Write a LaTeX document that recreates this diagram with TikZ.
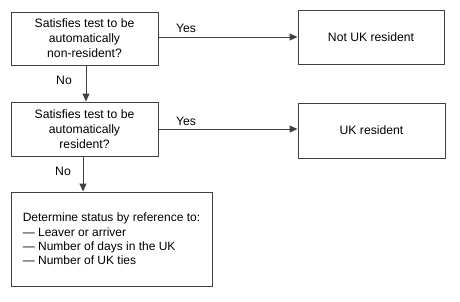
\documentclass[tikz,border=0pt]{standalone}
\usepackage{fontspec}
\setmainfont{Liberation Sans}
\usetikzlibrary{arrows.meta}

\tikzset{
  box/.style={draw=black!75,line width=1pt,minimum width=147pt,minimum height=54pt,align=center,inner sep=2pt},
  flow/.style={draw=black!75,line width=1pt,-{Triangle[length=8pt,width=7pt]}},
  lbl/.style={font=\fontsize{12.2}{14}\selectfont}
}

\begin{document}
\begin{tikzpicture}[x=1pt,y=-1pt,font=\fontsize{12.2}{15}\selectfont]
\useasboundingbox (0,0) rectangle (460,301);
\node[box,minimum height=53pt] (auton) at (84.5,38.5) {Satisfies test to be\\automatically\\non-resident?};
\node[box] (autor) at (84.5,129) {Satisfies test to be\\automatically\\resident?};
\node[box,minimum width=201pt,minimum height=94pt,align=left,font=\fontsize{12}{14.2}\selectfont] (status) at (111.5,239)
  {Determine status by reference to:\\— Leaver or arriver\\— Number of days in the UK\\— Number of UK ties};
\node[box,minimum width=146pt] (notuk) at (371,37) {Not UK resident};
\node[box,minimum height=55pt] (uk) at (371.5,130.5) {UK resident};
\draw[flow] (auton.east |- notuk.west) -- (notuk.west);
\draw[flow] (autor.east) -- (autor.east -| uk.west);
\draw[flow] ([xshift=1.5pt]auton.south) -- ([xshift=1.5pt]auton.south |- autor.north);
\draw[flow] ([xshift=-1.5pt]autor.south) -- ([xshift=-1.5pt]autor.south |- status.north);
\node[lbl] (yes1) at (186,28) {Yes};
\node[lbl] (yes2) at (186,121) {Yes};
\node[lbl] (no1) at (64,80) {No};
\node[lbl] (no2) at (63,171) {No};
\end{tikzpicture}
\end{document}
